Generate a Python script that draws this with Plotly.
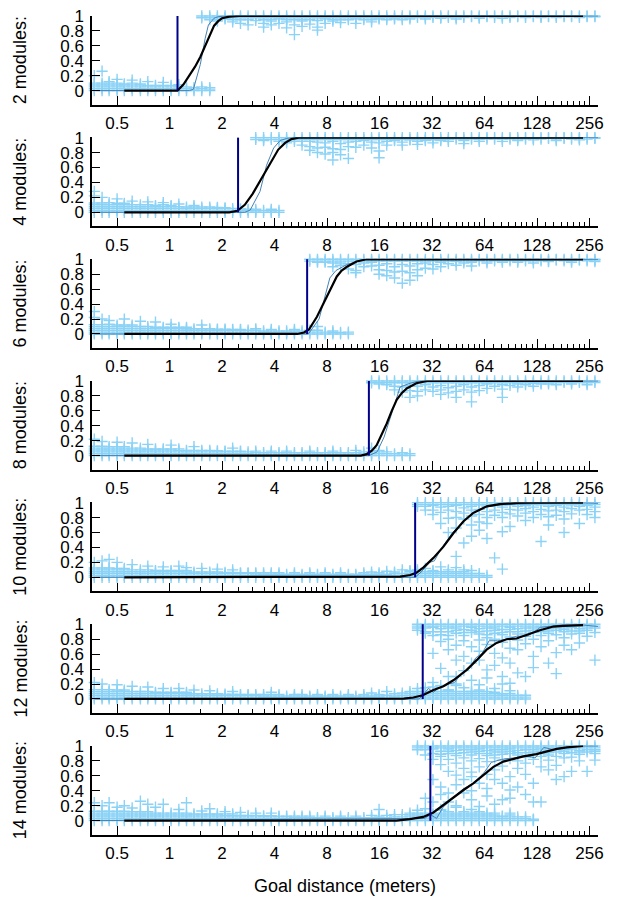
import plotly.graph_objects as go

# ---------------- data ----------------
GRID = [0.37, 0.41, 0.45, 0.50, 0.55, 0.61, 0.68, 0.75, 0.83, 0.92, 1.02, 1.13, 1.25, 1.38,
        1.53, 1.70, 1.88, 2.08, 2.30, 2.55, 2.82, 3.12, 3.46, 3.83, 4.24, 4.69, 5.20, 5.75,
        6.37, 7.05, 7.80, 8.64, 9.56, 10.6, 11.7, 13.0, 14.4, 15.9, 17.6, 19.5, 21.6, 23.9,
        26.4, 29.3, 32.4, 35.9, 39.7, 44.0, 48.7, 53.9, 59.7, 66.1, 73.1, 81.0, 89.6, 99.2,
        110, 122, 135, 149, 165, 183, 202, 224, 248, 275, 290]

MODULES = [2, 4, 6, 8, 10, 12, 14]
THRESHOLDS = [1.11, 2.47, 6.15, 13.9, 25.6, 28.3, 31.3]

X_TICKS = [0.5, 1, 2, 4, 8, 16, 32, 64, 128, 256]
X_TICK_TEXT = ["0.5", "1", "2", "4", "8", "16", "32", "64", "128", "256"]
X_MINOR = [1.5, 2.5, 3, 3.5, 4.5, 5, 5.5, 6, 6.5, 7, 7.5, 9, 10, 11, 12, 13, 14, 15,
           18, 20, 22, 24, 26, 28, 30, 36, 40, 44, 48, 52, 56, 60, 72, 80, 88, 96, 104,
           112, 120, 144, 160, 176, 192, 208, 224, 240]
Y_TICKS = [0, 0.2, 0.4, 0.6, 0.8, 1]
Y_TICK_TEXT = ["0", "0.2", "0.4", "0.6", "0.8", "1"]

# ---- 2 modules ----
LOW_M2 = [[0,.025,.05,.075,.1,.2],[0,.025,.05,.075,.1,.26],[0,.025,.05,.075,.1,.12],
          [0,.025,.05,.075,.1,.15],[0,.025,.05,.075,.09],[0,.025,.05,.075,.1,.14],
          [0,.025,.05,.075,.09],[0,.025,.05,.07,.12],[0,.025,.05,.07],[0,.025,.05,.07,.11],
          [0,.025,.05,.07],[0,.025,.05,.08],[0,.025,.05],[0,.02,.04],[0,.025,.05],[0,.02,.04]]
HIGH_START_M2 = 14
HIGH_M2 = [[1,.975],[1,.975,.95],[1,.975,.95,.93],[1,.975,.96],[1,.975,.95,.92],
           [1,.975,.95,.9],[1,.975,.95,.88],[1,.975,.94],[1,.975,.95,.9,.85],
           [1,.975,.95,.93,.88],[1,.975,.96,.9],[1,.975,.95,.92,.84],[1,.975,.95,.88,.75],
           [1,.975,.95,.93,.86],[1,.975,.95,.89],[1,.975,.94,.85,.81],[1,.975,.96,.9],
           [1,.975,.95,.93],[1,.975,.95,.91],[1,.975,.95],[1,.975,.96,.9],[1,.975,.95],
           [1,.975,.95,.92],[1,.975,.96],[1,.975,.95],[1,.975,.96],[1,.975,.95],[1,.98,.96],
           [1,.98],[1,.98,.96],[1,.98],[1,.98,.97],[1,.98],[1,.98,.96],[1,.98],[1,.99],
           [1,.98,.97],[1,.99],[1,.98],[1,.99,.97],[1,.98],[1,.99],[1,.98],[1,.99],
           [1,.99,.98],[1,.99],[1,.98],[1,.99],[1,.99],[1,.98],[1,.99],[1,.99],[1,.99]]
FIT_X_M2 = [0.55, 1.0, 1.11, 1.2, 1.3, 1.4, 1.5, 1.6, 1.7, 1.8, 1.9, 2.0, 2.2, 2.5, 235]
FIT_Y_M2 = [0, 0, 0, 0.08, 0.2, 0.32, 0.45, 0.6, 0.75, 0.87, 0.93, 0.97, 0.99, 1, 1]
MEAN_X_M2 = [0.37, 1.3, 1.37, 1.5, 1.6, 1.67, 1.8, 1.9, 2.1, 290]
MEAN_Y_M2 = [0, 0, 0.02, 0.35, 0.7, 0.88, 0.97, 0.99, 1, 1]

# ---- 4 modules ----
LOW_M4 = [[0,.025,.05,.075,.1,.125,.22,.28],[0,.025,.05,.075,.1,.125,.2],
          [0,.025,.05,.075,.1,.13],[0,.025,.05,.075,.1,.12,.18],[0,.025,.05,.075,.1,.12],
          [0,.025,.05,.075,.1,.15],[0,.025,.05,.075,.1],[0,.025,.05,.075,.1,.14],
          [0,.025,.05,.075,.09],[0,.025,.05,.075,.1,.13],[0,.025,.05,.075,.09],
          [0,.025,.05,.075,.11],[0,.025,.05,.07],[0,.025,.05,.07,.09],[0,.025,.05,.07],
          [0,.025,.05,.07],[0,.025,.05,.065],[0,.025,.05,.06],[0,.025,.05],[0,.025,.045],
          [0,.025,.04],[0,.02,.04],[0,.025],[0,.02,.04],[0,.025]]
HIGH_START_M4 = 21
HIGH_M4 = [[1,.975],[1,.975,.96],[1,.975],[1,.975,.95],[1,.975,.95,.93],[1,.975,.95],
           [1,.975,.95,.9],[1,.975,.95,.88,.83],[1,.975,.94,.86,.8],[1,.975,.93,.87,.78],
           [1,.975,.95,.85,.8,.7],[1,.975,.92,.84,.77],[1,.975,.94,.88,.72],[1,.975,.95,.87],
           [1,.975,.96,.9],[1,.975,.94,.86],[1,.975,.93,.82,.73],[1,.975,.95,.9],[1,.975,.96],
           [1,.975,.94,.9],[1,.975,.97],[1,.975,.95,.91],[1,.975,.96],[1,.975,.97,.93],
           [1,.975,.96],[1,.975,.95],[1,.98],[1,.975,.96,.92],[1,.98],[1,.975,.95],[1,.98],
           [1,.98],[1,.98,.95],[1,.98],[1,.98,.96],[1,.98],[1,.99,.97],[1,.98],[1,.99],
           [1,.98,.96],[1,.99],[1,.98],[1,.99,.97],[1,.98],[1,.99],[1,.98]]
FIT_X_M4 = [0.55, 2.2, 2.45, 2.7, 3.0, 3.3, 3.6, 3.9, 4.2, 4.6, 5.0, 5.5, 235]
FIT_Y_M4 = [0, 0, 0.02, 0.1, 0.25, 0.42, 0.58, 0.72, 0.84, 0.93, 0.98, 1, 1]
MEAN_X_M4 = [0.37, 2.7, 2.9, 3.3, 3.6, 3.95, 4.3, 4.7, 5.2, 290]
MEAN_Y_M4 = [0, 0, 0.03, 0.28, 0.63, 0.86, 0.96, 0.99, 1, 1]

# ---- 6 modules ----
LOW_M6 = [[0,.025,.05,.075,.1,.125,.22,.3],[0,.025,.05,.075,.1,.125,.2],
          [0,.025,.05,.075,.1,.13,.18],[0,.025,.05,.075,.1,.12],[0,.025,.05,.075,.1,.12,.2],
          [0,.025,.05,.075,.1,.12],[0,.025,.05,.075,.1,.17],[0,.025,.05,.075,.1],
          [0,.025,.05,.075,.09,.16],[0,.025,.05,.075,.09],[0,.025,.05,.075,.09,.13],
          [0,.025,.05,.075,.09],[0,.025,.05,.07,.09],[0,.025,.05,.07],[0,.025,.05,.07,.12],
          [0,.025,.05,.07],[0,.025,.05,.065],[0,.025,.05,.065],[0,.025,.05,.06],
          [0,.025,.05,.06],[0,.025,.05],[0,.025,.05,.07],[0,.02,.04],[0,.02,.04,.06],
          [0,.02,.04],[0,.02,.04],[0,.02,.04,.06],[0,.02,.04],[0,.025,.05],[0,.025,.05,.1],
          [0,.025],[0,.02,.04],[0,.02],[0,.025]]
HIGH_START_M6 = 28
HIGH_M6 = [[1,.975],[1,.975,.96],[1,.975,.96],[1,.975,.95,.9],[1,.975,.95,.92],
           [1,.975,.94,.87],[1,.975,.93,.85,.82],[1,.975,.95,.9],[1,.975,.96,.91],
           [1,.975,.92,.86,.8],[1,.975,.94,.85,.78],[1,.975,.9,.83,.75],[1,.975,.93,.84,.68],
           [1,.975,.91,.82,.72],[1,.975,.94,.86,.78],[1,.975,.95,.88],[1,.975,.93,.87],
           [1,.975,.96,.9],[1,.975,.94],[1,.975,.97,.92],[1,.975,.95],[1,.975,.96,.91],
           [1,.98],[1,.975,.95],[1,.98],[1,.98,.96],[1,.98],[1,.98,.96],[1,.98],[1,.98,.95],
           [1,.98],[1,.98,.97],[1,.99],[1,.98],[1,.98,.96],[1,.99],[1,.98],[1,.99,.97],[1,.98]]
FIT_X_M6 = [0.55, 5.4, 5.9, 6.3, 7.0, 7.5, 8.0, 8.5, 9.1, 9.7, 10.4, 11.8, 13.5, 235]
FIT_Y_M6 = [0, 0, 0.02, 0.06, 0.23, 0.37, 0.5, 0.64, 0.77, 0.85, 0.9, 0.97, 1, 1]
MEAN_X_M6 = [0.37, 6.25, 7.2, 7.8, 8.3, 9.0, 10.4, 12.6, 14, 290]
MEAN_Y_M6 = [0, 0, 0.2, 0.5, 0.75, 0.85, 0.93, 0.99, 1, 1]

# ---- 8 modules ----
LOW_M8 = [[0,.025,.05,.075,.1,.125,.22],[0,.025,.05,.075,.1,.125,.19],
          [0,.025,.05,.075,.1,.12],[0,.025,.05,.075,.1,.12,.18],[0,.025,.05,.075,.1,.12],
          [0,.025,.05,.075,.1,.17],[0,.025,.05,.075,.1],[0,.025,.05,.075,.09,.15],
          [0,.025,.05,.075,.09],[0,.025,.05,.075,.09],[0,.025,.05,.075,.09,.14],
          [0,.025,.05,.07,.09],[0,.025,.05,.07],[0,.025,.05,.07,.12],[0,.025,.05,.07],
          [0,.025,.05,.07],[0,.025,.05,.065],[0,.025,.05,.06],[0,.025,.05,.06,.1],
          [0,.025,.05,.06],[0,.025,.05],[0,.02,.04,.06],[0,.02,.04],[0,.02,.04,.06],
          [0,.02,.04],[0,.02,.04,.06],[0,.02,.04],[0,.02,.04],[0,.02,.04,.06],[0,.02,.04],
          [0,.02,.04],[0,.02,.04,.06],[0,.02,.04],[0,.02,.04],[0,.02,.04,.07],
          [0,.025,.05],[0,.025,.05,.1],[0,.025,.05,.07],[0,.025,.05],[0,.025],
          [0,.02,.04],[0,.025]]
HIGH_START_M8 = 36
HIGH_M8 = [[1,.975],[1,.975,.96],[1,.975,.95],[1,.975,.93,.88],[1,.975,.92,.85],
           [1,.975,.94,.87,.78],[1,.975,.93,.86,.8],[1,.975,.95,.88],[1,.975,.92,.86],
           [1,.975,.94,.88,.82],[1,.975,.91,.84],[1,.975,.93,.86,.78],[1,.975,.95,.88],
           [1,.975,.92,.85,.72],[1,.975,.94,.87],[1,.975,.96,.9],[1,.975,.93],
           [1,.975,.95,.89,.78],[1,.975,.94],[1,.975,.96,.92],[1,.975,.95],[1,.975,.97,.93],
           [1,.975,.96],[1,.98,.96],[1,.975,.95],[1,.98],[1,.98,.96],[1,.98],[1,.975,.95],
           [1,.98],[1,.98,.96]]
FIT_X_M8 = [0.55, 12.5, 13.5, 14.5, 15.4, 16.5, 17.6, 18.8, 20.1, 21.5, 22.9, 26, 30, 235]
FIT_Y_M8 = [0, 0, 0.02, 0.07, 0.14, 0.28, 0.43, 0.6, 0.75, 0.84, 0.9, 0.97, 1, 1]
MEAN_X_M8 = [0.37, 13.9, 15.5, 17, 19, 21, 24, 27, 290]
MEAN_Y_M8 = [0, 0, 0.05, 0.25, 0.6, 0.92, 0.97, 1, 1]

# ---- 10 modules ----
LOW_M10 = [[0,.025,.05,.075,.1,.125,.2],[0,.025,.05,.075,.1,.125,.22],
           [0,.025,.05,.075,.1,.125,.24],[0,.025,.05,.075,.1,.12,.2],
           [0,.025,.05,.075,.1,.12],[0,.025,.05,.075,.1,.17],[0,.025,.05,.075,.1],
           [0,.025,.05,.075,.1,.15],[0,.025,.05,.075,.09],[0,.025,.05,.075,.09,.14],
           [0,.025,.05,.075,.09],[0,.025,.05,.075,.09,.15],[0,.025,.05,.07,.09,.13],
           [0,.025,.05,.07],[0,.025,.05,.07,.12],[0,.025,.05,.07],[0,.025,.05,.07,.11],
           [0,.025,.05,.065],[0,.025,.05,.065,.1],[0,.025,.05,.06],[0,.025,.05,.06],
           [0,.025,.045,.06],[0,.02,.04,.06],[0,.02,.04,.06],[0,.02,.04,.06],[0,.02,.04],
           [0,.02,.04,.06],[0,.02,.04],[0,.02,.04,.06],[0,.02,.04],[0,.02,.04,.06],
           [0,.02,.04],[0,.02,.04,.06],[0,.02,.04],[0,.02,.04],[0,.02,.04,.06],
           [0,.02,.04,.07],[0,.02,.04,.06],[0,.02,.04,.08],[0,.025,.05,.07],
           [0,.025,.05,.1],[0,.025,.05,.075,.09],[0,.025,.05,.075,.1],[0,.025,.05,.075,.12],
           [0,.025,.05,.075,.09],[0,.025,.05,.075,.14],[0,.025,.05,.075,.1],
           [0,.025,.05,.075,.13],[0,.025,.05,.075,.1],[0,.025,.05,.09],[0,.025,.05],[0,.025]]
HIGH_START_M10 = 42
HIGH_M10 = [[1,.975,.95],[1,.975,.95,.9],[1,.975,.96,.9,.84],[1,.975,.94,.87,.72],
            [1,.975,.95,.9,.79,.6],[1,.975,.96,.88,.8,.66,.28],[1,.975,.93,.86,.78,.46],
            [1,.975,.95,.9,.82,.7,.55],[1,.975,.97,.91,.84,.74,.63],
            [1,.975,.95,.88,.8,.72,.52],[1,.975,.96,.9,.83,.26],[1,.975,.94,.87,.8,.61,.11],
            [1,.975,.97,.91,.85,.68],[1,.975,.95,.9,.82],[1,.975,.96,.92,.86,.76],
            [1,.975,.94,.88,.8],[1,.975,.97,.91,.84,.48],[1,.975,.95,.89,.81,.7],
            [1,.975,.96,.9,.83],[1,.975,.94,.88,.78,.6],[1,.975,.97,.92,.85],
            [1,.975,.95,.9,.72],[1,.975,.96,.91,.84],[1,.975,.94,.88,.8],[1,.975,.96,.9,.66]]
FIT_X_M10 = [0.55, 18, 21, 24, 26, 28.5, 32.6, 37.2, 42.4, 48.5, 55, 66, 78, 98, 120, 235]
FIT_Y_M10 = [0, 0, 0.01, 0.03, 0.06, 0.13, 0.26, 0.41, 0.59, 0.75, 0.86, 0.95, 0.98, 0.995, 1, 1]
MEAN_X_M10 = [0.37, 25.6, 28, 31, 33, 36, 42, 48, 55, 64, 80, 100, 150, 200, 290]
MEAN_Y_M10 = [0, 0, 0.08, 0.2, 0.22, 0.38, 0.6, 0.74, 0.87, 0.94, 0.97, 0.98, 0.99, 1, 0.99]

# ---- 12 modules ----
LOW_M12 = [[0,.025,.05,.075,.1,.125,.22],[0,.025,.05,.075,.1,.125,.2],
           [0,.025,.05,.075,.1,.125],[0,.025,.05,.075,.1,.12,.19],[0,.025,.05,.075,.1,.12],
           [0,.025,.05,.075,.1,.17],[0,.025,.05,.075,.1],[0,.025,.05,.075,.1,.16],
           [0,.025,.05,.075,.09],[0,.025,.05,.075,.09,.14],[0,.025,.05,.075,.09],
           [0,.025,.05,.075,.09,.14],[0,.025,.05,.07,.09],[0,.025,.05,.07,.12],
           [0,.025,.05,.07],[0,.025,.05,.07,.11],[0,.025,.05,.07],[0,.025,.05,.065],
           [0,.025,.05,.065,.1],[0,.025,.05,.06],[0,.025,.05,.06],[0,.025,.045,.06],
           [0,.02,.04,.06],[0,.02,.04,.06,.09],[0,.02,.04,.06],[0,.02,.04],[0,.02,.04,.06],
           [0,.02,.04,.06],[0,.02,.04],[0,.02,.04,.06],[0,.02,.04],[0,.02,.04,.06],
           [0,.02,.04],[0,.02,.04,.06],[0,.02,.04],[0,.02,.04,.06],[0,.02,.04,.08],
           [0,.02,.04,.06],[0,.025,.05,.1],[0,.02,.04,.07],[0,.025,.05,.08],
           [0,.025,.05,.075,.1],[0,.025,.05,.075,.1,.14],[0,.025,.05,.075,.1],
           [0,.025,.05,.075,.1,.16],[0,.025,.05,.075,.1],[0,.025,.05,.075,.1,.12],
           [0,.025,.05,.075,.1,.18],[0,.025,.05,.075,.1],[0,.025,.05,.075,.1],
           [0,.025,.05,.075,.1,.12],[0,.025,.05,.075,.1],[0,.025,.05,.075,.09],
           [0,.025,.05,.07],[0,.025,.05,.075,.11],[0,.025,.05],[0,.025]]
HIGH_START_M12 = 42
HIGH_M12 = [[1,.975,.95,.92],[1,.975,.95,.9,.88,.15],[1,.975,.96,.9,.85,.61,.22,.1],
            [1,.975,.94,.9,.86,.77,.41,.18],[1,.975,.95,.9,.85,.8,.66,.3,.12],
            [1,.975,.95,.92,.88,.72,.52,.3,.2],[1,.975,.93,.89,.85,.78,.57,.38,.15],
            [1,.975,.96,.92,.89,.7,.48,.25,.1],[1,.975,.94,.9,.87,.79,.64,.52,.19],
            [1,.975,.95,.91,.86,.82,.73,.39,.28],[1,.975,.95,.92,.88,.8,.61,.45,.14],
            [1,.975,.93,.89,.86,.76,.55,.3,.2],[1,.975,.96,.93,.9,.83,.68,.48,.21],
            [1,.975,.94,.9,.87,.79,.66,.35],[1,.975,.95,.91,.87,.84,.74,.3,.05],
            [1,.975,.95,.92,.89,.8,.57,.42],[1,.975,.96,.93,.9,.85,.7],
            [1,.975,.94,.91,.88,.78,.48],[1,.975,.95,.92,.86,.62,.34],
            [1,.975,.95,.93,.9,.82,.72],[1,.975,.96,.91,.87,.66],[1,.975,.94,.91,.88,.75],
            [1,.975,.95,.92,.84],[1,.975,.95,.89,.52],[1,.975,.96,.93,.9,.48]]
FIT_X_M12 = [0.55, 20, 22, 25, 28.3, 32.6, 37.2, 42.4, 50.6, 57.7, 65.8, 75, 85.6, 97.6, 111,
             133, 159, 181, 235]
FIT_Y_M12 = [0, 0, 0.005, 0.02, 0.05, 0.12, 0.17, 0.25, 0.39, 0.52, 0.66, 0.75, 0.8, 0.81,
             0.86, 0.92, 0.97, 0.98, 0.99]
MEAN_X_M12 = [0.37, 27, 28.3, 30.5, 32.6, 35, 40, 43, 47, 52, 57, 62, 68, 76, 86, 98, 112,
              122, 134, 150, 180, 235, 290]
MEAN_Y_M12 = [0, 0, 0.05, 0.14, 0.09, 0.15, 0.2, 0.22, 0.33, 0.4, 0.55, 0.61, 0.78, 0.78,
              0.8, 0.84, 0.84, 0.89, 0.96, 0.97, 0.99, 0.99, 0.97]

# ---- 14 modules ----
LOW_M14 = [[0,.025,.05,.075,.1,.125,.24],[0,.025,.05,.075,.1,.125,.2],
           [0,.025,.05,.075,.1,.125,.24],[0,.025,.05,.075,.1,.125,.18],
           [0,.025,.05,.075,.1,.125,.2],[0,.025,.05,.075,.1,.12,.17],
           [0,.025,.05,.075,.1,.12,.26],[0,.025,.05,.075,.1,.12,.22],
           [0,.025,.05,.075,.1,.18],[0,.025,.05,.075,.1,.22],[0,.025,.05,.075,.1],
           [0,.025,.05,.075,.1,.15],[0,.025,.05,.075,.1,.24],[0,.025,.05,.075,.09],
           [0,.025,.05,.075,.09,.13],[0,.025,.05,.075,.09,.16],[0,.025,.05,.075,.09],
           [0,.025,.05,.07,.09,.12],[0,.025,.05,.07,.09],[0,.025,.05,.07,.11],
           [0,.025,.05,.07],[0,.025,.05,.07,.1],[0,.025,.05,.065],[0,.025,.05,.065,.1],
           [0,.025,.05,.06],[0,.025,.05,.06],[0,.02,.04,.06],[0,.02,.04,.06],
           [0,.02,.04,.06],[0,.02,.04],[0,.02,.04,.06],[0,.02,.04],[0,.02,.04,.06],
           [0,.02,.04],[0,.02,.04,.06],[0,.02,.04],[0,.02,.04,.07],[0,.02,.04,.06,.15],
           [0,.02,.04,.07],[0,.025,.05,.08],[0,.025,.05,.08],[0,.025,.05,.075,.1],
           [0,.025,.05,.075,.1,.14],[0,.025,.05,.075,.1,.16],[0,.025,.05,.075,.09],
           [0,.025,.05,.075,.1,.14],[0,.025,.05,.075,.1,.12],[0,.025,.05,.075,.1,.18],
           [0,.025,.05,.075,.1],[0,.025,.05,.075,.1,.15],[0,.025,.05,.075,.1,.12],
           [0,.025,.05,.075,.1],[0,.025,.05,.075,.1],[0,.025,.05,.06],[0,.025,.05,.075,.1],
           [0,.025,.05],[0,.025,.05],[0,.02]]
HIGH_START_M14 = 42
HIGH_M14 = [[1,.975,.95],[1,.975,.95,.88,.3],[1,.975,.96,.9,.82,.55,.25],
            [1,.975,.93,.89,.86,.75,.45,.35,.15],[1,.975,.96,.93,.9,.82,.66,.37,.25],
            [1,.975,.94,.9,.87,.77,.61,.48,.2],[1,.975,.95,.91,.84,.7,.55,.37,.12],
            [1,.975,.95,.92,.88,.8,.65,.59,.4,.28],[1,.975,.96,.93,.9,.83,.72,.5,.19],
            [1,.975,.94,.9,.87,.79,.62,.43,.33],[1,.975,.95,.92,.88,.84,.68,.55,.22],
            [1,.975,.95,.92,.89,.81,.73,.5,.28],[1,.975,.96,.93,.9,.83,.59,.41,.3],
            [1,.975,.94,.91,.88,.8,.7,.45],[1,.975,.95,.91,.85,.77,.62,.35],
            [1,.975,.95,.92,.89,.82,.5,.25,.01],[1,.975,.96,.93,.9,.86,.72,.25],
            [1,.975,.94,.91,.88,.81,.68],[1,.975,.95,.92,.86,.74,.55],
            [1,.975,.95,.93,.9,.84,.59],[1,.975,.96,.91,.85,.66],[1,.975,.94,.92,.89,.8],
            [1,.975,.95,.92,.66],[1,.975,.95,.93,.9,.81],[1,.975,.96,.91,.72]]
FIT_X_M14 = [0.55, 20, 23.9, 28.5, 32.6, 37.2, 42.4, 48.5, 55.2, 63, 72, 82, 94, 107, 127,
             145, 166, 190, 235]
FIT_Y_M14 = [0, 0, 0.02, 0.05, 0.11, 0.21, 0.32, 0.41, 0.5, 0.61, 0.72, 0.79, 0.83, 0.86,
             0.89, 0.92, 0.96, 0.98, 1.0]
MEAN_X_M14 = [0.37, 29, 31.3, 34, 37, 42, 48, 55, 63, 70, 80, 94, 110, 125, 140, 160, 190,
              235, 290]
MEAN_Y_M14 = [0, 0.03, 0.08, 0.03, 0.18, 0.3, 0.42, 0.5, 0.63, 0.78, 0.82, 0.84, 0.87, 0.84,
              0.98, 0.95, 0.98, 1.0, 1.0]

PANELS = [
    (LOW_M2, HIGH_START_M2, HIGH_M2, FIT_X_M2, FIT_Y_M2, MEAN_X_M2, MEAN_Y_M2),
    (LOW_M4, HIGH_START_M4, HIGH_M4, FIT_X_M4, FIT_Y_M4, MEAN_X_M4, MEAN_Y_M4),
    (LOW_M6, HIGH_START_M6, HIGH_M6, FIT_X_M6, FIT_Y_M6, MEAN_X_M6, MEAN_Y_M6),
    (LOW_M8, HIGH_START_M8, HIGH_M8, FIT_X_M8, FIT_Y_M8, MEAN_X_M8, MEAN_Y_M8),
    (LOW_M10, HIGH_START_M10, HIGH_M10, FIT_X_M10, FIT_Y_M10, MEAN_X_M10, MEAN_Y_M10),
    (LOW_M12, HIGH_START_M12, HIGH_M12, FIT_X_M12, FIT_Y_M12, MEAN_X_M12, MEAN_Y_M12),
    (LOW_M14, HIGH_START_M14, HIGH_M14, FIT_X_M14, FIT_Y_M14, MEAN_X_M14, MEAN_Y_M14),
]

# ---------------- styling / layout ----------------
# The page body has an 8px default margin, so figure pixels = window pixels - 8.
W, H = 618, 898
ML, MR, MT, MB = 84, 28, 7, 71
PLOT_H = H - MT - MB
PANEL_TOP0 = 7.5            # figure pixel of the top of the first panel
PANEL_STEP = 121.67
PANEL_H = 89.3
Y_RANGE = [-0.19, 1.006]

PT_COLOR = "#8AD2F6"
MEAN_COLOR = "#4682B4"
THR_COLOR = "#00008B"
FONT = "Liberation Sans, Arial, Helvetica, sans-serif"
FS = 17

fig = go.Figure()
layout = dict(
    width=W, height=H,
    margin=dict(l=ML, r=MR, t=MT, b=MB, autoexpand=False),
    paper_bgcolor="white", plot_bgcolor="white",
    showlegend=False,
    font=dict(family=FONT, size=FS, color="black"),
)
annotations = []

for i, (low, hs, high, fx, fy, mx, my) in enumerate(PANELS):
    n = i + 1
    xa = "x" if n == 1 else f"x{n}"
    ya = "y" if n == 1 else f"y{n}"
    xs, ys = [], []
    for x, col in zip(GRID, low):
        for v in col:
            xs.append(x); ys.append(v)
    for x, col in zip(GRID[hs:], high):
        for v in col:
            xs.append(x); ys.append(v)
    fig.add_trace(go.Scatter(x=xs, y=ys, mode="markers", xaxis=xa, yaxis=ya,
                             marker=dict(symbol="cross-thin", size=8,
                                         line=dict(width=1.4, color=PT_COLOR)),
                             cliponaxis=False, hoverinfo="skip"))
    fig.add_trace(go.Scatter(x=mx, y=my, mode="lines", xaxis=xa, yaxis=ya,
                             line=dict(color=MEAN_COLOR, width=1), hoverinfo="skip"))
    fig.add_trace(go.Scatter(x=fx, y=fy, mode="lines", xaxis=xa, yaxis=ya,
                             line=dict(color="black", width=2.2), hoverinfo="skip"))
    t = THRESHOLDS[i]
    fig.add_trace(go.Scatter(x=[t, t], y=[0, 1], mode="lines", xaxis=xa, yaxis=ya,
                             line=dict(color=THR_COLOR, width=2), hoverinfo="skip"))

    top_px = PANEL_TOP0 + PANEL_STEP * i
    bot_px = top_px + PANEL_H
    d_top = 1 - (top_px - MT) / PLOT_H
    d_bot = 1 - (bot_px - MT) / PLOT_H
    key_x = "xaxis" if n == 1 else f"xaxis{n}"
    key_y = "yaxis" if n == 1 else f"yaxis{n}"
    layout[key_x] = dict(
        type="log", range=[-0.445, 2.457], domain=[0, 1], anchor=ya,
        tickvals=X_TICKS, ticktext=X_TICK_TEXT, ticks="inside", ticklen=9,
        tickwidth=1.3, tickcolor="black", showline=True, linewidth=1.5,
        linecolor="black", showgrid=False, zeroline=False, ticklabelstandoff=2,
        ticklabeloverflow="allow",
        tickfont=dict(family=FONT, size=FS, color="black"),
        minor=dict(tickvals=X_MINOR, ticks="inside", ticklen=4.5, tickwidth=1,
                   tickcolor="black", showgrid=False),
    )
    layout[key_y] = dict(
        range=Y_RANGE, domain=[d_bot, d_top], anchor=xa,
        tickvals=Y_TICKS, ticktext=Y_TICK_TEXT, ticks="inside", ticklen=8,
        tickwidth=1.3, tickcolor="black", showline=True, linewidth=1.5,
        linecolor="black", showgrid=False, zeroline=False, ticklabelstandoff=3,
        ticklabeloverflow="allow",
        tickfont=dict(family=FONT, size=FS, color="black"),
    )
    annotations.append(dict(
        text=f"{MODULES[i]} modules:", xref="paper", yref="paper",
        x=(12 - ML) / (W - ML - MR), y=(d_top + d_bot) / 2,
        xanchor="center", yanchor="middle", textangle=-90, showarrow=False,
        font=dict(family=FONT, size=18, color="black"),
    ))

annotations.append(dict(
    text="Goal distance (meters)", xref="paper", yref="paper",
    x=0.5, y=-(878 - (H - MB)) / PLOT_H, xanchor="center", yanchor="middle",
    showarrow=False, font=dict(family=FONT, size=18, color="black"),
))
layout["annotations"] = annotations
fig.update_layout(**layout)
fig.write_html("out.html")
